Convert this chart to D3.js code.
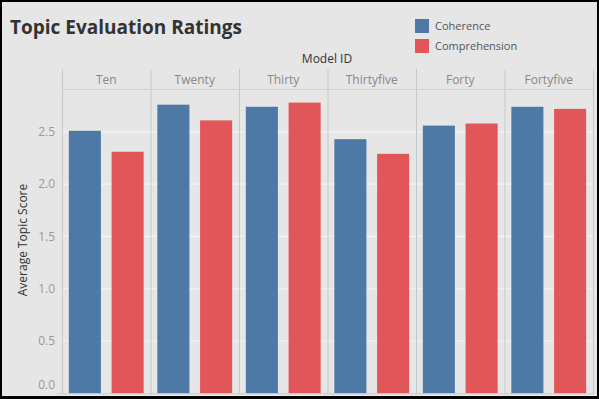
<!DOCTYPE html>
<html><head><meta charset="utf-8">
<script src="https://cdn.jsdelivr.net/npm/d3@7"></script>
<style>
html,body{margin:0;padding:0;background:#000;}
svg{display:block;}
text{font-family:"Open Sans","Noto Sans",sans-serif;}
</style></head>
<body>
<svg id="chart" width="599" height="399"></svg>
<script>
const categories = ["Ten","Twenty","Thirty","Thirtyfive","Forty","Fortyfive"];
const seriesNames = ["Coherence","Comprehension"];
const coherence = [2.51, 2.76, 2.74, 2.43, 2.56, 2.74];
const comprehension = [2.31, 2.61, 2.78, 2.29, 2.58, 2.72];
const yTicks = [0, 0.5, 1.0, 1.5, 2.0, 2.5];
const colors = ["#4e79a7", "#e15759"];

const svg = d3.select("#chart");
svg.append("rect").attr("x",2).attr("y",2).attr("width",595).attr("height",394).attr("fill","#e6e6e6");

const pLeft = 62, pRight = 593, pTop = 89, pBottom = 393.3, headerTop = 69;
const x = d3.scaleBand().domain(categories).range([pLeft, pRight]).padding(0);
const inner = d3.scaleBand().domain(seriesNames).range([0, x.bandwidth()]).paddingInner(0.25).paddingOuter(0.16);
const y = d3.scaleLinear().domain([0, 2.91]).range([pBottom, pTop]);

// gridlines
svg.append("g").selectAll("line").data(yTicks.filter(d=>d>0)).join("line")
  .attr("x1", pLeft).attr("x2", pRight)
  .attr("y1", d=>y(d)).attr("y2", d=>y(d))
  .attr("stroke","#f5f5f5").attr("stroke-width",1.2);

// panel dividers
svg.append("g").selectAll("line").data(categories.concat(["__end"])).join("line")
  .attr("x1", (d,i)=> i<categories.length ? x(d)+0.5 : pRight+0.5)
  .attr("x2", (d,i)=> i<categories.length ? x(d)+0.5 : pRight+0.5)
  .attr("y1", headerTop).attr("y2", pBottom+1)
  .attr("stroke","#c8c8c8").attr("stroke-width",1);

// header line
svg.append("line").attr("x1", pLeft).attr("x2", pRight).attr("y1", pTop+0.5).attr("y2", pTop+0.5)
  .attr("stroke","#cfcfcf");

// header labels
svg.append("g").selectAll("text").data(categories).join("text")
  .attr("x", d=>x(d)+x.bandwidth()/2).attr("y", 84)
  .attr("text-anchor","middle").attr("font-size",12).attr("fill","#888")
  .text(d=>d);

svg.append("text").attr("x", 327).attr("y", 63).attr("text-anchor","middle")
  .attr("font-size",12).attr("fill","#333").text("Model ID");

// bars
const data = categories.map((c,i)=>({cat:c, vals:[coherence[i], comprehension[i]]}));
const groups = svg.append("g").selectAll("g").data(data).join("g")
  .attr("transform", d=>`translate(${x(d.cat)},0)`);
groups.selectAll("rect").data(d=>d.vals.map((v,j)=>({s:seriesNames[j], v, j}))).join("rect")
  .attr("x", d=>inner(d.s)).attr("width", inner.bandwidth())
  .attr("y", d=>y(d.v)).attr("height", d=>pBottom - y(d.v))
  .attr("fill", d=>colors[d.j]);

// zero axis line
svg.append("line").attr("x1", 57).attr("x2", pRight+1).attr("y1", pBottom+0.5).attr("y2", pBottom+0.5)
  .attr("stroke","#c8c8c8");

// y tick labels
svg.append("g").selectAll("text").data(yTicks).join("text")
  .attr("x", 55).attr("y", d=> d===0 ? y(d)-9 : y(d))
  .attr("dy","0.35em").attr("text-anchor","end")
  .attr("font-size",12).attr("fill","#999")
  .text(d=>d3.format(".1f")(d));

// y axis title
svg.append("text").attr("transform","translate(27,240) rotate(-90)")
  .attr("text-anchor","middle").attr("font-size",12).attr("fill","#333")
  .text("Average Topic Score");

// title
svg.append("text").attr("x", 10).attr("y", 34).attr("font-size",19).attr("font-weight","bold")
  .attr("fill","#333").text("Topic Evaluation Ratings");

// legend
const lg = svg.append("g").selectAll("g").data(seriesNames).join("g")
  .attr("transform",(d,i)=>`translate(415,${19+i*20})`);
lg.append("rect").attr("width",14).attr("height",14).attr("fill",(d,i)=>colors[i]);
lg.append("text").attr("x",20).attr("y",7).attr("dy","0.35em").attr("font-size",11).attr("fill","#555").text(d=>d);
</script>
</body></html>
